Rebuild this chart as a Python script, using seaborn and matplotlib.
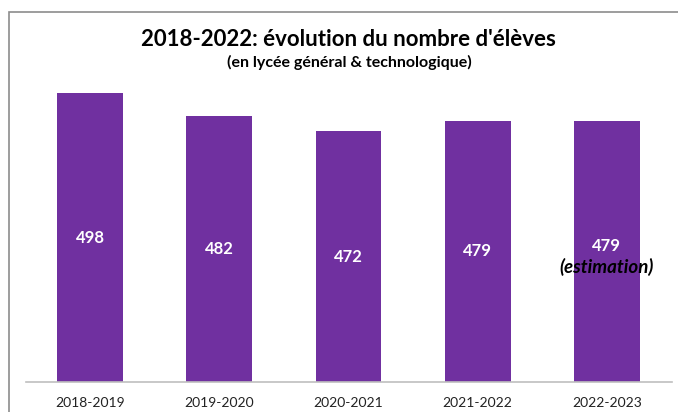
import matplotlib
matplotlib.use("Agg")
import matplotlib.pyplot as plt
import seaborn as sns
import pandas as pd
from matplotlib.patches import Rectangle

years = ["2018-2019", "2019-2020", "2020-2021", "2021-2022", "2022-2023"]
eleves = [498, 482, 472, 479, 479]
notes = ["", "", "", "", "(estimation)"]

title = "2018-2022: évolution du nombre d'élèves"
subtitle = "(en lycée général & technologique)"

sns.set_theme(style="white")
plt.rcParams['font.family'] = ['Lato', 'DejaVu Sans']

W, H = 678, 412
fig = plt.figure(figsize=(W / 100, H / 100), dpi=100)
fig.patch.set_facecolor("white")

# frame around chart area
fig.add_artist(Rectangle((9 / W, -0.1), 2, (H - 12) / H + 0.1, transform=fig.transFigure,
                         fill=False, edgecolor="#8c8c8c", linewidth=1.2))

left, right = 25.5, 671.5
bottom_px, top_px = 382, 61
ax = fig.add_axes([left / W, (H - bottom_px) / H, (right - left) / W, (bottom_px - top_px) / H])

df = pd.DataFrame({"annee": years, "eleves": eleves})
sns.barplot(data=df, x="annee", y="eleves", color="#7030A0", saturation=1,
            width=0.51, ax=ax, edgecolor="none")
ax.set_ylim(300, 520)
ax.set_xlim(-0.5, len(years) - 0.5)
ax.set_xlabel("")
ax.set_ylabel("")
ax.set_yticks([])
for s in ["top", "right", "left"]:
    ax.spines[s].set_visible(False)
ax.spines["bottom"].set_color("#bfbfbf")
ax.spines["bottom"].set_linewidth(1.2)
ax.tick_params(axis="x", length=0, pad=11, labelsize=10, colors="#222222")
ax.set_facecolor("none")

for i, (v, n) in enumerate(zip(eleves, notes)):
    mid = (300 + v) / 2
    if n:
        ax.text(i, mid + 4, str(v), ha="center", va="center", color="white",
                fontsize=12, fontweight="bold")
        ax.text(i, mid - 11, n, ha="center", va="center", color="black",
                fontsize=13.5, fontweight="bold", style="italic")
    else:
        ax.text(i, mid, str(v), ha="center", va="center", color="white",
                fontsize=12, fontweight="bold")

fig.text(348 / W, 1 - 40 / H, title, ha="center", va="center", fontsize=16,
         fontweight="bold", color="black")
fig.text(349 / W, 1 - 62 / H, subtitle, ha="center", va="center", fontsize=11.5,
         fontweight="bold", color="black")

fig.savefig("out.png", dpi=100)
